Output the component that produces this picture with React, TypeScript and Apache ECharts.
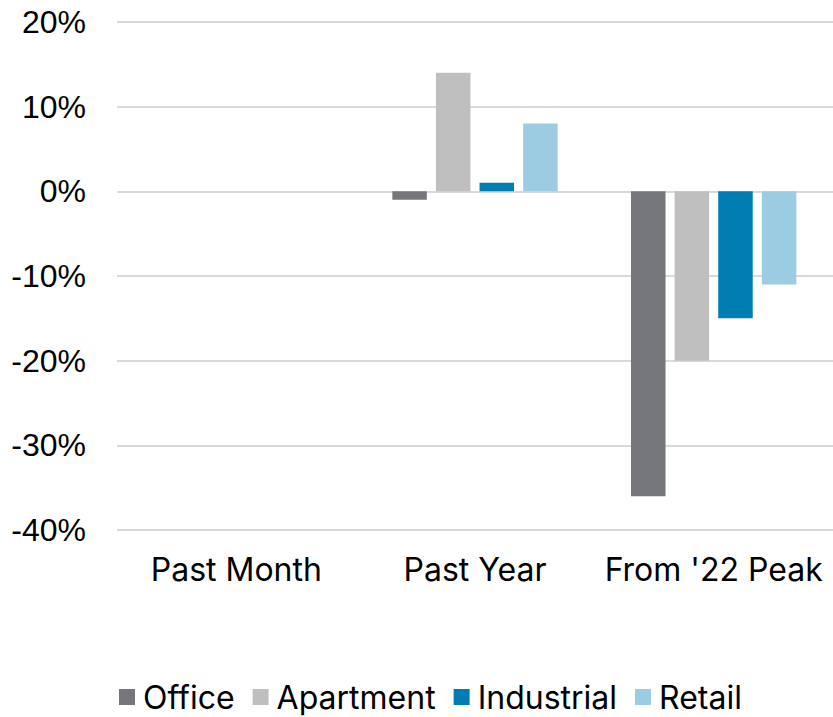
import React, { useEffect, useRef } from "react";
import * as echarts from "echarts";

const categories = ["Past Month", "Past Year", "From '22 Peak"];
const seriesNames = ["Office", "Apartment", "Industrial", "Retail"];
const office = [0, -1, -36];
const apartment = [0, 14, -20];
const industrial = [0, 1, -15];
const retail = [0, 8, -11];
const colors = ["#75777b", "#bfbfbf", "#007db3", "#9ccce1"];

export default function App() {
  const ref = useRef<HTMLDivElement>(null);
  useEffect(() => {
    if (!ref.current) return;
    const chart = echarts.init(ref.current, null, { renderer: "svg" });
    const data = [office, apartment, industrial, retail];
    chart.setOption({
      animation: false,
      color: colors,
      grid: { left: 117, width: 721.5, top: 22, bottom: 187, containLabel: false },
      legend: {
        top: 676,
        left: 114,
        itemWidth: 16,
        itemHeight: 16,
        itemGap: 18,
        icon: "rect",
        textStyle: { fontFamily: "Inter", fontSize: 32, color: "#000", padding: [0, 0, 0, 3] },
        data: seriesNames,
      },
      xAxis: {
        type: "category",
        data: categories,
        axisLine: { show: false },
        axisTick: { show: false },
        axisLabel: { fontFamily: "Inter", fontSize: 32, color: "#000", margin: 23, interval: 0 },
      },
      yAxis: {
        type: "value",
        min: -40,
        max: 20,
        interval: 10,
        axisLine: { show: false },
        axisTick: { show: false },
        splitLine: { lineStyle: { color: "#d9d9d9", width: 2 } },
        axisLabel: {
          fontFamily: "Liberation Sans",
          fontSize: 32,
          color: "#000",
          margin: 31,
          formatter: (v: number) => `${v}%`,
        },
      },
      series: seriesNames.map((name, i) => ({
        name,
        type: "bar",
        data: data[i],
        barWidth: 34.5,
        barGap: "26.4%",
        itemStyle: { color: colors[i] },
      })),
    });
    return () => chart.dispose();
  }, []);
  return <div ref={ref} style={{ width: 833, height: 717, position: "absolute", left: 0, top: 0 }} />;
}
